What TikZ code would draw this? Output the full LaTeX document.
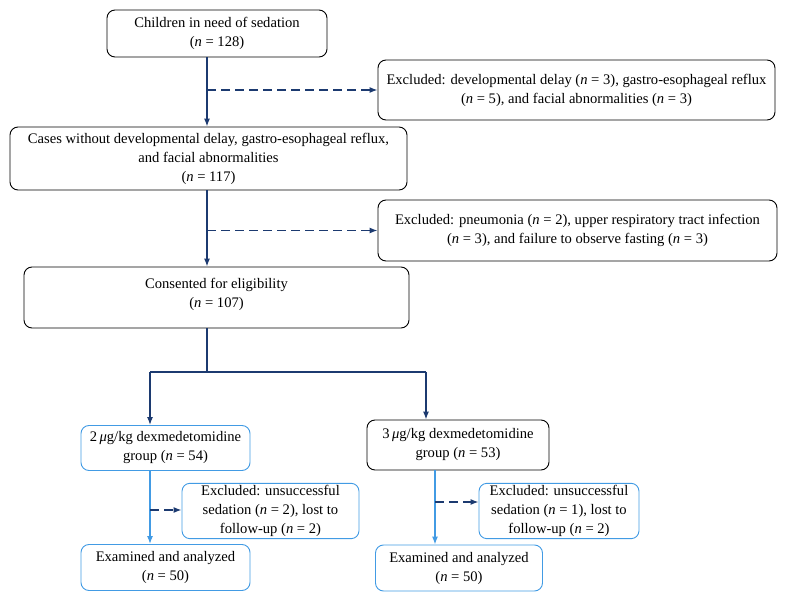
\documentclass[tikz,border=0pt]{standalone}
\usepackage{fontspec}
\setmainfont{Liberation Serif}
\usepackage{tikz}
\usetikzlibrary{arrows,arrows.meta,shapes}
\usetikzlibrary{calc}
\definecolor{navy}{RGB}{28,58,112}
\definecolor{skyblue}{RGB}{66,155,228}
\tikzstyle{box}=[draw,rounded corners=8pt,line width=0.9pt,align=center,inner sep=2pt,font=\fontsize{14.6}{19}\selectfont]
\tikzstyle{bluebox}=[box,draw=skyblue]
\tikzstyle{edge} = [draw,line width=1.2pt,navy,-{Latex[length=8pt,width=6pt]}]
\tikzstyle{dashededge} = [draw,line width=1.2pt,navy,dash pattern=on 9pt off 5pt,-{Latex[length=8pt,width=6pt]}]
\tikzstyle{blueedge} = [draw,line width=1.2pt,skyblue,-{Latex[length=8pt,width=6pt]}]

\begin{document}
\begin{tikzpicture}[x=1pt,y=-1pt]
   \useasboundingbox (0,0) rectangle (788,601);

   % main column
   \node[box,minimum width=220pt,minimum height=47pt] (children) at (217,33.5)
      {Children in need of sedation\\(\textit{n} = 128)};
   \node[box,minimum width=397pt,minimum height=63pt] (cases) at (208.5,158.5)
      {Cases without developmental delay, gastro-esophageal reflux,\\and facial abnormalities\\(\textit{n} = 117)};
   \node[box,minimum width=385pt,minimum height=61pt] (consent) at (216.5,297.5)
      {Consented for eligibility\\(\textit{n} = 107)\\[-9pt]\mbox{}};

   % exclusions
   \node[box,minimum width=397pt,minimum height=60pt] (exclA) at (576.5,90)
      {Excluded: developmental delay (\textit{n} = 3), gastro-esophageal reflux\\(\textit{n} = 5), and facial abnormalities (\textit{n} = 3)};
   \node[box,minimum width=399pt,minimum height=61pt] (exclB) at (577.5,230.5)
      {Excluded: pneumonia (\textit{n} = 2), upper respiratory tract infection\\(\textit{n} = 3), and failure to observe fasting (\textit{n} = 3)};

   % groups
   \node[bluebox,minimum width=169pt,minimum height=45pt] (groupA) at (165.5,448)
      {2\,\textit{μ}g/kg dexmedetomidine\\group (\textit{n} = 54)};
   \node[box,minimum width=182pt,minimum height=50pt] (groupB) at (458,445)
      {3\,\textit{μ}g/kg dexmedetomidine\\group (\textit{n} = 53)};
   \node[bluebox,minimum width=177pt,minimum height=55pt] (lossA) at (270.5,511)
      {Excluded: unsuccessful\\sedation (\textit{n} = 2), lost to\\follow-up (\textit{n} = 2)};
   \node[bluebox,minimum width=160pt,minimum height=52pt] (lossB) at (559,511)
      {Excluded: unsuccessful\\sedation (\textit{n} = 1), lost to\\follow-up (\textit{n} = 2)};
   \node[bluebox,minimum width=169pt,minimum height=46pt] (examA) at (165.5,567.5)
      {Examined and analyzed\\(\textit{n} = 50)};
   \node[bluebox,minimum width=167pt,minimum height=46pt] (examB) at (459,568)
      {Examined and analyzed\\(\textit{n} = 50)};

   \coordinate (split) at (207,372);
   \coordinate (ldrop) at (150,372);
   \coordinate (rdrop) at (426,372);
   \coordinate (lbranch) at (150,510);
   \coordinate (rbranch) at (435,502);

   % connectors
   \path[edge] (children.south -| split) -- (cases.north -| split);
   \path[dashededge] (exclA.west -| split) -- (exclA.west);
   \path[edge] (cases.south -| split) -- (consent.north -| split);
   \path[dashededge] (exclB.west -| split) -- (exclB.west);
   \draw[line width=1.2pt,navy] (consent.south -| split) -- (split);
   \draw[line width=1.2pt,navy] (ldrop) -- (rdrop);
   \path[edge] (ldrop) -- (ldrop |- groupA.north);
   \path[edge] (rdrop) -- (rdrop |- groupB.north);

   \path[blueedge] (groupA.south -| lbranch) -- (examA.north -| lbranch);
   \path[dashededge] (lbranch) -- (lbranch -| lossA.west);
   \path[blueedge] (groupB.south -| rbranch) -- (examB.north -| rbranch);
   \path[dashededge] (rbranch) -- (rbranch -| lossB.west);

\end{tikzpicture}
\end{document}
